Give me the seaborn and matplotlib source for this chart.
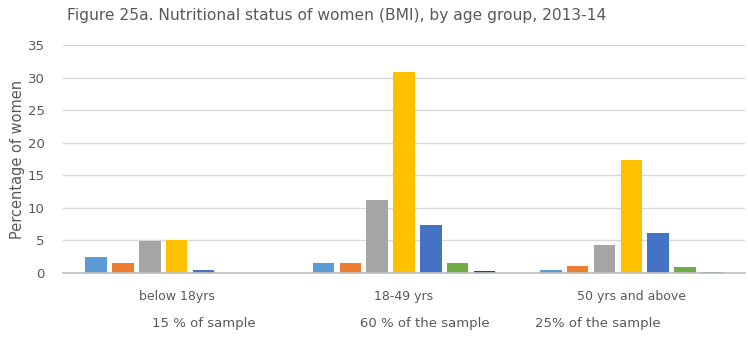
import matplotlib
matplotlib.use("Agg")
import matplotlib.pyplot as plt
import seaborn as sns
import pandas as pd
from matplotlib import font_manager

age_groups = ["below 18yrs", "18-49 yrs", "50 yrs and above"]
sample_notes = ["15 % of sample", "60 % of the sample", "25% of the sample"]
bmi_classes = ["Class 1", "Class 2", "Class 3", "Class 4", "Class 5", "Class 6", "Class 7"]
below18 = [2.5, 1.5, 4.9, 5.0, 0.4, 0.0, 0.0]
age18_49 = [1.5, 1.5, 11.2, 30.8, 7.4, 1.5, 0.3]
age50plus = [0.4, 1.1, 4.3, 17.4, 6.2, 0.9, 0.2]
colors = ["#5B9BD5", "#ED7D31", "#A5A5A5", "#FFC000", "#4472C4", "#70AD47", "#264478"]

rows = []
for grp, vals in zip(age_groups, [below18, age18_49, age50plus]):
    for cls, v in zip(bmi_classes, vals):
        rows.append({"age": grp, "bmi": cls, "pct": v})
df = pd.DataFrame(rows)

sns.set_theme(style="white")
names = {f.name for f in font_manager.fontManager.ttflist}
narrow = "Liberation Sans Narrow" if "Liberation Sans Narrow" in names else "DejaVu Sans"
plt.rcParams["font.family"] = ["DejaVu Sans"]
txt = "#595959"

fig = plt.figure(figsize=(7.48, 3.37), dpi=100)
ax = fig.add_axes([0.0842, 0.190, 0.9118, 0.676])
sns.barplot(data=df, x="age", y="pct", hue="bmi", order=age_groups, hue_order=bmi_classes,
            palette=colors, width=0.826, gap=0.2, legend=False, ax=ax, errorbar=None,
            saturation=1, linewidth=0)
ax.set_xlim(-0.5, 2.5)
ax.set_ylim(0, 35)
ax.set_yticks(range(0, 36, 5))
ax.grid(axis="y", color="#D9D9D9", linewidth=1)
ax.set_axisbelow(True)
for s in ["top", "right", "left"]:
    ax.spines[s].set_visible(False)
ax.spines["bottom"].set_color("#BFBFBF")
ax.tick_params(axis="both", length=0, colors=txt)
ax.tick_params(axis="x", pad=12, labelsize=9)
ax.tick_params(axis="y", pad=13, labelsize=9.5)
ax.set_xlabel("")
ax.set_ylabel("Percentage of women", color=txt, fontsize=10.5, labelpad=2)

fig.text(67 / 748, 0.953, "Figure 25a. Nutritional status of women (BMI), by age group, 2013-14",
         color=txt, fontsize=11.2, ha="left", va="center", family=narrow)
for xc, note in zip([204, 425, 598], sample_notes):
    fig.text(xc / 748, 1 - 323 / 337, note, color=txt, fontsize=9.5, ha="center", va="center")

fig.savefig("out.png", dpi=100)
